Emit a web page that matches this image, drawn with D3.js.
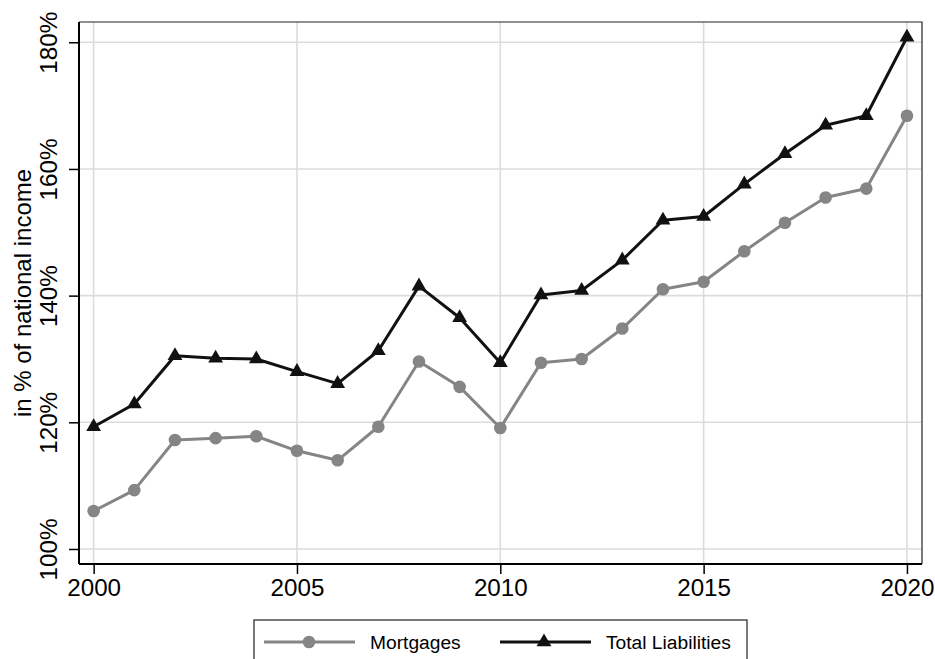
<!DOCTYPE html>
<html>
<head>
<meta charset="utf-8">
<script src="https://cdn.jsdelivr.net/npm/d3@7"></script>
<style>
  html, body { margin: 0; padding: 0; background: #fff; }
  svg { display: block; font-family: "Liberation Sans", Arial, sans-serif; }
</style>
</head>
<body>
<svg id="chart" width="935" height="659"></svg>
<script>
const years = [2000,2001,2002,2003,2004,2005,2006,2007,2008,2009,2010,2011,2012,2013,2014,2015,2016,2017,2018,2019,2020];
const mortgages = [106.0,109.3,117.2,117.5,117.8,115.5,114.0,119.3,129.6,125.6,119.1,129.4,130.0,134.8,141.0,142.2,147.0,151.5,155.5,156.9,168.4];
const totalLiabilities = [119.3,122.9,130.5,130.1,130.0,128.0,126.1,131.3,141.5,136.5,129.4,140.1,140.8,145.6,151.9,152.5,157.6,162.4,166.9,168.4,180.8];
const xTicks = [2000,2005,2010,2015,2020];
const yTicks = [100,120,140,160,180];
const seriesNames = ["Mortgages","Total Liabilities"];
const yTitle = "in % of national income";

const svg = d3.select("#chart");
const L = 79, R = 922, T = 22, B = 564;

const x = d3.scaleLinear().domain([1999.64, 2020.37]).range([L, R]);
const y = d3.scaleLinear().domain([97.63, 183.2]).range([B, T]);

// gridlines
const grid = svg.append("g");
grid.selectAll("line.gx").data(xTicks).enter().append("line")
  .attr("x1", d => x(d)).attr("x2", d => x(d)).attr("y1", T).attr("y2", B)
  .attr("stroke", "#dcdcdc").attr("stroke-width", 1.6);
grid.selectAll("line.gy").data(yTicks).enter().append("line")
  .attr("x1", L).attr("x2", R).attr("y1", d => y(d)).attr("y2", d => y(d))
  .attr("stroke", "#dcdcdc").attr("stroke-width", 1.6);

// frame top/right
svg.append("path").attr("d", `M${L},${T}H${R}V${B}`).attr("fill", "none")
  .attr("stroke", "#222").attr("stroke-width", 1.2);

// axes
const fs = 24.2;
const xAxis = svg.append("g").attr("transform", `translate(0,${B})`)
  .call(d3.axisBottom(x).tickValues(xTicks).tickFormat(d3.format("d")).tickSize(10).tickPadding(5));
xAxis.select(".domain").attr("d", `M${L},0H${R}`).attr("stroke", "#000").attr("stroke-width", 2);
xAxis.selectAll(".tick line").attr("stroke", "#000").attr("stroke-width", 1.5);
xAxis.selectAll(".tick text").attr("font-size", fs).attr("fill", "#000")
  .attr("font-family", "Liberation Sans, Arial, sans-serif");

const yAxis = svg.append("g").attr("transform", `translate(${L},0)`)
  .call(d3.axisLeft(y).tickValues(yTicks).tickFormat(d => d + "%").tickSize(10).tickPadding(5));
yAxis.select(".domain").attr("d", `M0,${T}V${B}`).attr("stroke", "#000").attr("stroke-width", 2);
yAxis.selectAll(".tick line").attr("stroke", "#000").attr("stroke-width", 1.5);
yAxis.selectAll(".tick text").attr("font-size", fs).attr("fill", "#000")
  .attr("font-family", "Liberation Sans, Arial, sans-serif")
  .attr("transform", "rotate(-90)").attr("x", 0).attr("y", -22).attr("dy", 0)
  .attr("text-anchor", "middle");

// y title
svg.append("text").attr("transform", `translate(31,${(T + B) / 2}) rotate(-90)`)
  .attr("text-anchor", "middle").attr("font-size", 24).attr("fill", "#000").text(yTitle);

// series
const colors = ["#858585", "#111111"];
const lineGen = vals => d3.line().x((d, i) => x(years[i])).y(d => y(d))(vals);

svg.append("path").attr("d", lineGen(mortgages)).attr("fill", "none")
  .attr("stroke", colors[0]).attr("stroke-width", 3).attr("stroke-linejoin", "round");
svg.append("g").selectAll("circle").data(mortgages).enter().append("circle")
  .attr("cx", (d, i) => x(years[i])).attr("cy", d => y(d)).attr("r", 6.3).attr("fill", colors[0]);

svg.append("path").attr("d", lineGen(totalLiabilities)).attr("fill", "none")
  .attr("stroke", colors[1]).attr("stroke-width", 3).attr("stroke-linejoin", "round");
const tri = d3.symbol().type(d3.symbolTriangle).size(95);
svg.append("g").selectAll("path").data(totalLiabilities).enter().append("path")
  .attr("d", tri).attr("transform", (d, i) => `translate(${x(years[i])},${y(d)})`)
  .attr("fill", colors[1]);

// legend
const lg = svg.append("g");
lg.append("rect").attr("x", 254).attr("y", 620).attr("width", 493).attr("height", 60)
  .attr("fill", "#fff").attr("stroke", "#333").attr("stroke-width", 1.3);
const ly = 642;
lg.append("line").attr("x1", 264).attr("x2", 355).attr("y1", ly).attr("y2", ly)
  .attr("stroke", colors[0]).attr("stroke-width", 3);
lg.append("circle").attr("cx", 309).attr("cy", ly).attr("r", 6.3).attr("fill", colors[0]);
lg.append("text").attr("x", 370).attr("y", ly + 7).attr("font-size", 19.2).attr("fill", "#000").text(seriesNames[0]);
lg.append("line").attr("x1", 500).attr("x2", 591).attr("y1", ly).attr("y2", ly)
  .attr("stroke", colors[1]).attr("stroke-width", 3);
lg.append("path").attr("d", tri).attr("transform", `translate(544,${ly})`).attr("fill", colors[1]);
lg.append("text").attr("x", 606).attr("y", ly + 7).attr("font-size", 19.2).attr("fill", "#000").text(seriesNames[1]);
</script>
</body>
</html>
